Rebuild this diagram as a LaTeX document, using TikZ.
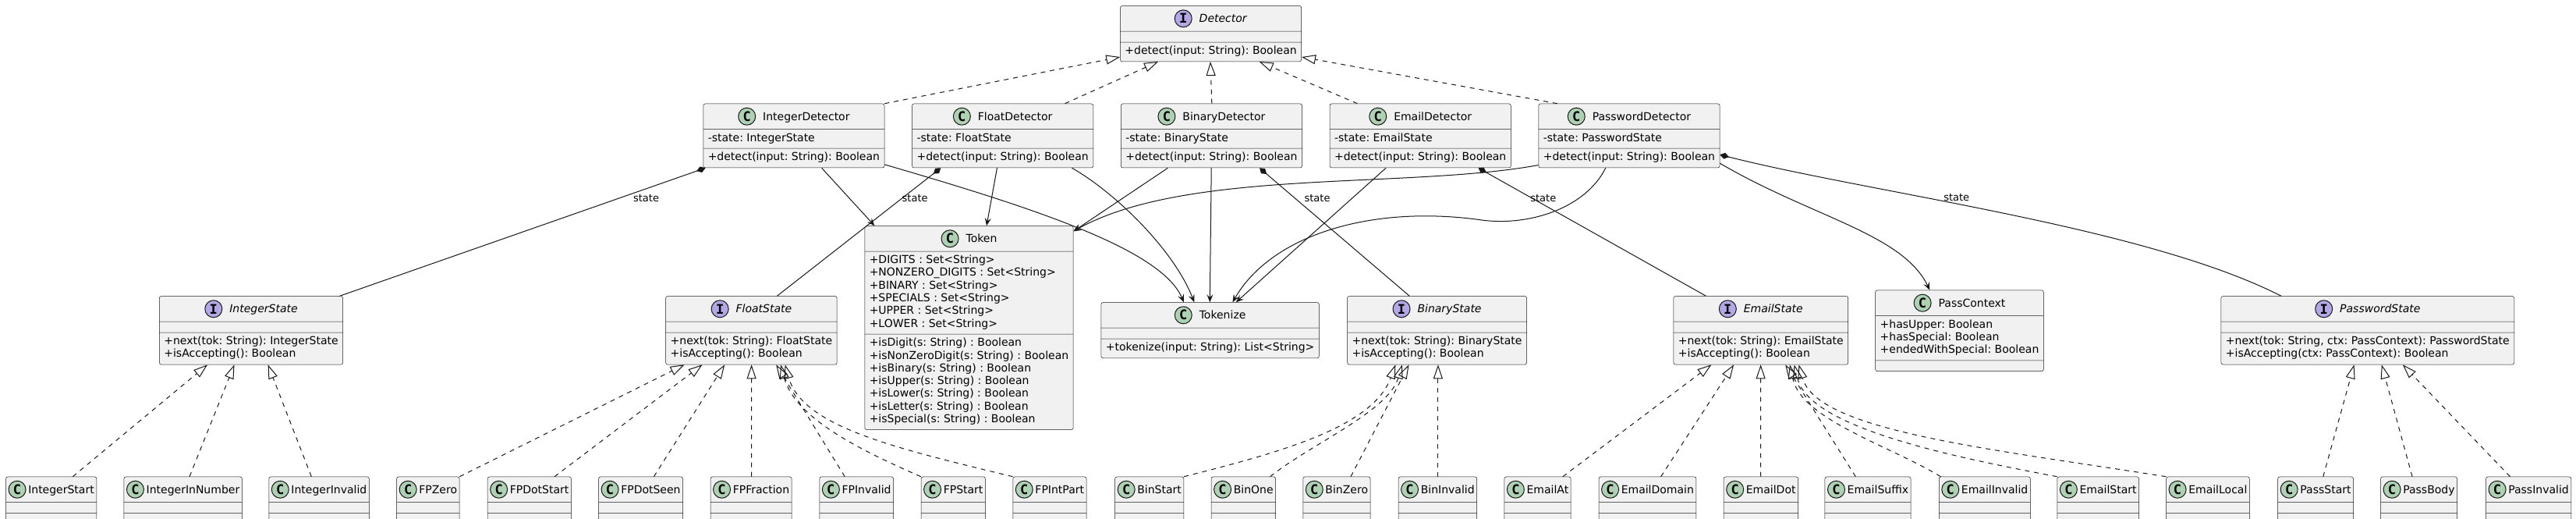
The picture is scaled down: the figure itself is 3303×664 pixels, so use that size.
\documentclass[tikz,border=0pt]{standalone}
\usepackage{fontspec}
\setmainfont{DejaVu Sans}
\setmonofont{DejaVu Sans Mono}
\frenchspacing
\usetikzlibrary{shapes.multipart,arrows.meta,positioning}
\definecolor{classbg}{HTML}{F1F1F1}
\definecolor{linecol}{HTML}{181818}
\definecolor{spotgreen}{HTML}{ADD1B2}
\definecolor{spotpurple}{HTML}{B4A7E5}
\newcommand\umlfont{\fontsize{14}{16.27}\selectfont}
\newcommand\spotfont{\ttfamily\bfseries\fontsize{17}{17}\selectfont}
\newcommand\edgefont{\fontsize{13}{15}\selectfont}
\newcommand\hdstrut{\rule[-6.9pt]{0pt}{24pt}}
\newcommand\cspot{\tikz[baseline=-5.1pt]\node[spotc] at (0,0) {C};}
\newcommand\ispot{\tikz[baseline=-5.1pt]\node[spoti] at (0,0) {I};}
\newcommand\cname[1]{\hdstrut\cspot\hspace{9pt}#1}
\newcommand\iname[1]{\hdstrut\ispot\hspace{9pt}\textit{#1}}
\newcommand\lname[1]{\hdstrut\cspot\hspace{2.7pt}#1}
\tikzset{
umlclass/.style = {rectangle split, rectangle split parts=3, rectangle split part align={center,left,left},
  rectangle split ignore empty parts=false, rectangle split empty part height=0pt, rectangle split empty part depth=0pt,
  draw=linecol, line width=0.5pt, fill=classbg, rounded corners=2.5pt, inner xsep=6pt, inner ysep=4pt,
  align=left, anchor=north west, font=\umlfont},
leafclass/.style = {umlclass, inner xsep=3pt},
spotc/.style = {shape=circle, anchor=center, draw=linecol, line width=1pt, fill=spotgreen, inner sep=0pt, minimum size=22pt, font=\spotfont},
spoti/.style = {spotc, fill=spotpurple},
statelabel/.style = {font=\edgefont, inner sep=0pt},
realize/.style = {draw=linecol, line width=1pt, dash pattern=on 6pt off 6pt, -{Triangle[open, length=18pt, width=12pt]}},
compose/.style = {draw=linecol, line width=1pt, {Diamond[length=12pt, width=8pt]}-},
depend/.style = {draw=linecol, line width=1pt, -{Stealth[length=10pt, width=8pt, inset=4pt]}}
}
\begin{document}
\begin{tikzpicture}[x=1pt, y=-1pt, node distance=35pt]
  \fill [white] (0,0) rectangle (3303,664);
  \useasboundingbox (0,0) rectangle (3303,664);

  \node [umlclass]                  (det)      at (1436.2,7.3)   {\iname{Detector}\nodepart{three}\strut +detect(input: String): Boolean};
  \node [umlclass]                  (intdet)   at (901.5,132.7)  {\cname{IntegerDetector}\nodepart{two}\strut -state: IntegerState\nodepart{three}\strut +detect(input: String): Boolean};
  \node [umlclass, right=of intdet] (fltdet)                     {\cname{FloatDetector}\nodepart{two}\strut -state: FloatState\nodepart{three}\strut +detect(input: String): Boolean};
  \node [umlclass, right=of fltdet] (bindet)                     {\cname{BinaryDetector}\nodepart{two}\strut -state: BinaryState\nodepart{three}\strut +detect(input: String): Boolean};
  \node [umlclass, right=of bindet] (emldet)                     {\cname{EmailDetector}\nodepart{two}\strut -state: EmailState\nodepart{three}\strut +detect(input: String): Boolean};
  \node [umlclass, right=of emldet] (pwddet)                     {\cname{PasswordDetector}\nodepart{two}\strut -state: PasswordState\nodepart{three}\strut +detect(input: String): Boolean};

  \node [umlclass]                  (token)    at (1108.5,289.3) {\cname{Token}\nodepart{two}\strut +DIGITS : Set<String>\\ \strut +NONZERO\_DIGITS : Set<String>\\ \strut +BINARY : Set<String>\\ \strut +SPECIALS : Set<String>\\ \strut +UPPER : Set<String>\\ \strut +LOWER : Set<String>\nodepart{three}\strut +isDigit(s: String) : Boolean\\ \strut +isNonZeroDigit(s: String) : Boolean\\ \strut +isBinary(s: String) : Boolean\\ \strut +isUpper(s: String) : Boolean\\ \strut +isLower(s: String) : Boolean\\ \strut +isLetter(s: String) : Boolean\\ \strut +isSpecial(s: String) : Boolean};
  \node [umlclass]                  (tokenize) at (1411.6,387.3) {\cname{Tokenize}\nodepart{three}\strut +tokenize(input: String): List<String>};
  \node [umlclass]                  (passctx)  at (2404.4,371.7) {\cname{PassContext}\nodepart{two}\strut +hasUpper: Boolean\\ \strut +hasSpecial: Boolean\\ \strut +endedWithSpecial: Boolean};

  \node [umlclass]                  (intst)    at (204.1,379.3)  {\iname{IntegerState}\nodepart{three}\strut +next(tok: String): IntegerState\\ \strut +isAccepting(): Boolean};
  \node [umlclass]                  (fltst)    at (853.4,379.3)  {\iname{FloatState}\nodepart{three}\strut +next(tok: String): FloatState\\ \strut +isAccepting(): Boolean};
  \node [umlclass]                  (binst)    at (1727.3,379.3) {\iname{BinaryState}\nodepart{three}\strut +next(tok: String): BinaryState\\ \strut +isAccepting(): Boolean};
  \node [umlclass]                  (emlst)    at (2145.6,379.3) {\iname{EmailState}\nodepart{three}\strut +next(tok: String): EmailState\\ \strut +isAccepting(): Boolean};
  \node [umlclass]                  (pwdst)    at (2847.7,379.3) {\iname{PasswordState}\nodepart{three}\strut +next(tok: String, ctx: PassContext): PasswordState\\ \strut +isAccepting(ctx: PassContext): Boolean};

  \node [leafclass] (intstart)   at (7.3,610.7)    {\lname{IntegerStart}};
  \node [leafclass] (intnum)     at (158.7,610.7)  {\lname{IntegerInNumber}};
  \node [leafclass] (intinv)     at (344.5,610.7)  {\lname{IntegerInvalid}};
  \node [leafclass] (fpzero)     at (508.4,610.7)  {\lname{FPZero}};
  \node [leafclass] (fpdotstart) at (624.9,610.7)  {\lname{FPDotStart}};
  \node [leafclass] (fpdotseen)  at (767.3,610.7)  {\lname{FPDotSeen}};
  \node [leafclass] (fpfrac)     at (910.8,610.7)  {\lname{FPFraction}};
  \node [leafclass] (fpinv)      at (1050.6,610.7) {\lname{FPInvalid}};
  \node [leafclass] (fpstart)    at (1180.8,610.7) {\lname{FPStart}};
  \node [leafclass] (fpint)      at (1298.5,610.7) {\lname{FPIntPart}};
  \node [leafclass] (binstart)   at (1429.4,610.7) {\lname{BinStart}};
  \node [leafclass] (binone)     at (1552.8,610.7) {\lname{BinOne}};
  \node [leafclass] (binzero)    at (1670.5,610.7) {\lname{BinZero}};
  \node [leafclass] (bininv)     at (1792.8,610.7) {\lname{BinInvalid}};
  \node [leafclass] (emlat)      at (1928.6,610.7) {\lname{EmailAt}};
  \node [leafclass] (emldom)     at (2049.8,610.7) {\lname{EmailDomain}};
  \node [leafclass] (emldot)     at (2209.9,610.7) {\lname{EmailDot}};
  \node [leafclass] (emlsuf)     at (2339.7,610.7) {\lname{EmailSuffix}};
  \node [leafclass] (emlinv)     at (2486.0,610.7) {\lname{EmailInvalid}};
  \node [leafclass] (emlstart)   at (2637.6,610.7) {\lname{EmailStart}};
  \node [leafclass] (emllocal)   at (2777.3,610.7) {\lname{EmailLocal}};
  \node [leafclass] (passstart)  at (2920.4,610.7) {\lname{PassStart}};
  \node [leafclass] (passbody)   at (3052.3,610.7) {\lname{PassBody}};
  \node [leafclass] (passinv)    at (3187.3,610.7) {\lname{PassInvalid}};
  \coordinate (wave) at (1900,282);

  \draw [realize] (intdet.north east) -- ([yshift=6pt]det.south west);
  \draw [realize] ([xshift=196.2pt]fltdet.north west) -- ([xshift=48.8pt]det.south west);
  \draw [realize] ([xshift=116.8pt]bindet.north west) -- ([xshift=115.8pt]det.south west);
  \draw [realize] ([xshift=35.7pt]emldet.north west) -- ([xshift=178.5pt]det.south west);
  \draw [realize] ([xshift=24.3pt]pwddet.north west) -- ([yshift=6pt]det.south east);

  \draw [compose] ([xshift=3pt]intdet.south west) -- ([xshift=231.4pt]intst.north west) node [statelabel, pos=0.234, xshift=33.8pt] {state};
  \draw [compose] ([xshift=37pt]fltdet.south west) -- ([xshift=142.9pt]fltst.north west) node [statelabel, pos=0.234, xshift=16pt] {state};
  \draw [compose] ([xshift=178pt]bindet.south west) -- ([xshift=80pt]binst.north west) node [statelabel, pos=0.234, xshift=29pt] {state};
  \draw [compose] ([xshift=190.7pt]emldet.south west) -- ([xshift=41.9pt]emlst.north west) node [statelabel, pos=0.234, xshift=15pt] {state};
  \draw [compose] ([yshift=17pt]pwddet.south east) .. controls +(198,50) and +(-175,-89) .. ([xshift=77.3pt]pwdst.north west) node [statelabel, pos=0.43, xshift=-9pt, yshift=10pt] {state};

  \draw [depend] ([xshift=152.1pt]intdet.south west) -- ([xshift=12.9pt]token.north west);
  \draw [depend] ([yshift=4.4pt]intdet.south east) .. controls +(196,57) and +(-28,-67) .. ([xshift=106.3pt]tokenize.north west);
  \draw [depend] ([xshift=109.2pt]fltdet.south west) -- ([xshift=156.5pt]token.north west);
  \draw [depend] ([xshift=205.2pt]fltdet.south west) .. controls +(56,32) and +(-26,-67) .. ([xshift=119.7pt]tokenize.north west);
  \draw [depend] ([xshift=60.4pt]bindet.south west) -- ([yshift=-7pt]token.north east);
  \draw [depend] ([xshift=116.2pt]bindet.south west) -- ([xshift=139.7pt]tokenize.north west);
  \draw [depend] ([xshift=72.3pt]emldet.south west) -- ([xshift=173.2pt]tokenize.north west);
  \draw [depend] ([yshift=3.7pt]pwddet.south west) .. controls +(-170,31) and +(144,-81) .. ([yshift=-7pt]token.north east);
  \draw [depend] ([xshift=86.2pt]pwddet.south west) .. controls +(-26,52) and +(60,8) .. (wave) .. controls +(-140,-20) and +(50,-87) .. ([xshift=168.8pt]tokenize.north west);
  \draw [depend] ([yshift=6pt]pwddet.south east) .. controls +(118,69) and +(-34,-72) .. ([xshift=69.9pt]passctx.north west);

  \draw [realize] ([xshift=86pt]intstart.north west) -- ([xshift=61.9pt]intst.south west);
  \draw [realize] ([xshift=84.3pt]intnum.north west) -- ([xshift=96.4pt]intst.south west);
  \draw [realize] ([xshift=54.8pt]intinv.north west) -- ([xshift=139.5pt]intst.south west);

  \draw [realize] (fpzero.north east) -- ([xshift=24.1pt]fltst.south west);
  \draw [realize] ([xshift=86.1pt]fpdotstart.north west) -- ([xshift=47.1pt]fltst.south west);
  \draw [realize] ([xshift=71.1pt]fpdotseen.north west) -- ([xshift=75.8pt]fltst.south west);
  \draw [realize] ([xshift=52.8pt]fpfrac.north west) -- ([xshift=110.2pt]fltst.south west);
  \draw [realize] ([xshift=32.6pt]fpinv.north west) -- ([xshift=141.8pt]fltst.south west);
  \draw [realize] (fpstart.north west) .. controls +(-71,-31) and +(19,70) .. ([xshift=147.6pt]fltst.south west);
  \draw [realize] (fpint.north west) .. controls +(-148,-36) and +(23,80) .. ([xshift=153.2pt]fltst.south west);

  \draw [realize] (binstart.north east) .. controls +(123,-31) and +(-29,80) .. ([xshift=62pt]binst.south west);
  \draw [realize] ([xshift=75.8pt]binone.north west) .. controls +(51,-41) and +(-18,60) .. ([xshift=70.6pt]binst.south west);
  \draw [realize] ([xshift=61.5pt]binzero.north west) -- ([xshift=79.2pt]binst.south west);
  \draw [realize] ([xshift=51.1pt]bininv.north west) -- ([xshift=116.6pt]binst.south west);

  \draw [realize] ([xshift=75.2pt]emlat.north west) -- ([xshift=48.8pt]emlst.south west);
  \draw [realize] ([xshift=79.8pt]emldom.north west) -- ([xshift=77.5pt]emlst.south west);
  \draw [realize] ([xshift=47.7pt]emldot.north west) -- ([xshift=112pt]emlst.south west);
  \draw [realize] ([xshift=39.6pt]emlsuf.north west) -- ([xshift=143.6pt]emlst.south west);
  \draw [realize] ([xshift=2.4pt]emlinv.north west) .. controls +(-68,-41) and +(15,70) .. ([xshift=149.3pt]emlst.south west);
  \draw [realize] (emlstart.north west) .. controls +(-138,-26) and +(19,80) .. ([xshift=155pt]emlst.south west);
  \draw [realize] (emllocal.north west) .. controls +(-227,-36) and +(24,85) .. ([xshift=160.8pt]emlst.south west);

  \draw [realize] ([xshift=58.4pt]passstart.north west) -- ([xshift=170.8pt]pwdst.south west);
  \draw [realize] ([xshift=40.7pt]passbody.north west) -- ([xshift=206.1pt]pwdst.south west);
  \draw [realize] ([xshift=31.2pt]passinv.north west) -- ([xshift=233.1pt]pwdst.south west);
\end{tikzpicture}
\end{document}
